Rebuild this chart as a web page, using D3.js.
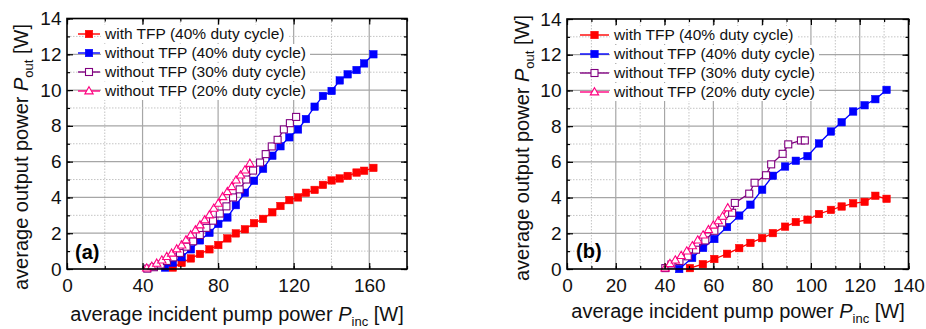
<!DOCTYPE html>
<html>
<head>
<meta charset="utf-8">
<script src="https://cdn.jsdelivr.net/npm/d3@7/dist/d3.min.js"></script>
<style>
  body { margin: 0; background: #fff; }
  svg { display: block; font-family: "Liberation Sans", Arial, sans-serif; }
</style>
</head>
<body>
<svg id="chart" width="926" height="329"></svg>
<script>
// ---- data: [incident pump power W, output power W] ----
const legendNames = [
  "with TFP (40% duty cycle)",
  "without TFP (40% duty cycle)",
  "without TFP (30% duty cycle)",
  "without TFP (20% duty cycle)"
];

// panel (a)
const aWithTFP40 = [[56.0,0.08],[60.7,0.34],[65.6,0.59],[70.4,0.84],[75.4,1.1],[80.1,1.34],[84.9,1.71],[89.4,1.99],[94.2,2.22],[99.0,2.56],[103.8,2.8],[108.7,3.17],[113.0,3.52],[117.7,3.85],[122.3,4.0],[126.5,4.26],[131.1,4.42],[135.5,4.7],[140.1,4.95],[144.4,5.06],[148.6,5.2],[153.3,5.39],[157.3,5.49],[162.2,5.65]];
const aNoTFP40 = [[51.9,0.08],[56.0,0.35],[60.7,0.66],[65.6,1.1],[70.4,1.6],[75.4,2.02],[80.1,2.52],[84.9,2.88],[89.4,3.57],[94.2,4.26],[99.0,4.93],[103.8,5.6],[108.7,6.33],[113.0,6.86],[117.7,7.36],[122.3,7.8],[126.5,8.38],[131.1,9.07],[135.5,9.67],[140.1,9.95],[144.4,10.54],[148.6,10.88],[153.3,11.12],[157.3,11.49],[162.2,12.0]];
const aNoTFP30 = [[42.5,0.02],[46.0,0.1],[49.6,0.25],[52.9,0.45],[56.3,0.65],[59.8,0.9],[63.3,1.25],[66.8,1.55],[70.3,1.9],[73.8,2.3],[77.3,2.7],[80.9,3.1],[84.4,3.5],[87.9,4.0],[91.4,4.45],[94.9,5.0],[98.5,5.5],[102.2,5.95],[105.2,6.42],[108.4,6.85],[111.5,7.22],[114.8,7.8],[118.0,8.15],[121.3,8.5]];
const aNoTFP20 = [[42.2,0.05],[44.9,0.15],[47.5,0.32],[50.2,0.5],[52.8,0.69],[55.4,0.88],[58.1,1.12],[60.7,1.34],[63.0,1.62],[65.5,1.9],[68.0,2.18],[70.4,2.46],[72.9,2.74],[75.4,3.02],[77.7,3.39],[80.1,3.67],[82.4,4.04],[84.9,4.32],[87.2,4.6],[89.5,4.97],[91.9,5.25],[94.2,5.53],[96.8,5.9]];

// panel (b)
const bWithTFP40 = [[50.4,0.05],[55.7,0.27],[60.4,0.56],[65.6,0.85],[70.6,1.17],[75.2,1.46],[80.0,1.73],[84.4,2.01],[89.4,2.37],[93.8,2.63],[98.6,2.76],[103.3,3.08],[108.2,3.31],[112.6,3.5],[117.3,3.68],[122.0,3.76],[126.4,4.1],[131.0,3.93]];
const bNoTFP40 = [[46.0,0.0],[51.3,0.62],[55.8,1.18],[60.4,1.68],[65.6,2.35],[70.6,2.99],[75.2,3.6],[80.0,4.44],[84.4,5.22],[89.4,5.74],[93.8,6.06],[98.6,6.32],[103.3,7.03],[108.2,7.7],[112.6,8.22],[117.3,8.82],[122.0,9.17],[126.4,9.51],[131.0,10.03]];
const bNoTFP30 = [[40.3,0.05],[42.8,0.25],[46.1,0.45],[49.5,0.71],[52.9,1.08],[56.7,1.6],[60.4,2.14],[63.6,2.6],[67.7,3.15],[68.8,3.7],[74.7,4.22],[76.9,4.83],[81.6,5.25],[83.7,5.86],[88.4,6.45],[90.7,6.98],[95.9,7.2],[97.5,7.2]];
const bNoTFP20 = [[40.2,0.05],[42.2,0.3],[44.4,0.5],[46.8,0.75],[49.1,1.0],[51.4,1.3],[53.6,1.62],[55.8,1.9],[58.0,2.2],[60.0,2.45],[62.0,2.7],[63.8,2.95],[65.9,3.42]];

const yTicks = [0, 2, 4, 6, 8, 10, 12, 14];
const xTicksA = [0, 40, 80, 120, 160];
const xTicksB = [0, 20, 40, 60, 80, 100, 120, 140];

// marker styles per series (same order as legendNames)
const styles = [
  { color: "#ff0000", shape: "square", fill: true },
  { color: "#0000ff", shape: "square", fill: true },
  { color: "#800080", shape: "square", fill: false },
  { color: "#ff0080", shape: "triangle", fill: false }
];

const svg = d3.select("#chart");

function marker(g, s, cx, cy) {
  if (s.shape === "square") {
    const sz = s.fill ? 7.5 : 7;
    g.append("rect")
      .attr("x", cx - sz / 2).attr("y", cy - sz / 2)
      .attr("width", sz).attr("height", sz)
      .attr("fill", s.fill ? s.color : "#fff")
      .attr("stroke", s.color)
      .attr("stroke-width", s.fill ? 0.5 : 1.1);
  } else {
    g.append("path")
      .attr("d", d3.symbol(d3.symbolTriangle, 30)())
      .attr("transform", "translate(" + cx + "," + (cy + 0.5) + ")")
      .attr("fill", "#fff")
      .attr("stroke", s.color)
      .attr("stroke-width", 1.1);
  }
}

function drawPanel(p) {
  const x = d3.scaleLinear().domain([0, p.xMax]).range([p.left, p.right]);
  const y = d3.scaleLinear().domain([0, 14]).range([p.bottom, p.top]);
  const g = svg.append("g");

  // grid
  const xMinor = d3.range(0, p.xMax + 0.01, p.xStep / 2);
  const yMinor = d3.range(0, 14.01, 1);
  g.append("g").selectAll("line").data(xMinor.filter(v => v > 0 && v < p.xMax)).enter()
    .append("line")
    .attr("x1", d => x(d)).attr("x2", d => x(d))
    .attr("y1", p.top).attr("y2", p.bottom)
    .attr("stroke", d => d % p.xStep === 0 ? "#a6a6a6" : "#c4c4c4")
    .attr("stroke-width", d => d % p.xStep === 0 ? 1.2 : 1)
    .attr("stroke-dasharray", d => d % p.xStep === 0 ? null : "1.5,1.5");
  g.append("g").selectAll("line").data(yMinor.filter(v => v > 0 && v < 14)).enter()
    .append("line")
    .attr("y1", d => y(d)).attr("y2", d => y(d))
    .attr("x1", p.left).attr("x2", p.right)
    .attr("stroke", d => d % 2 === 0 ? "#a6a6a6" : "#c4c4c4")
    .attr("stroke-width", d => d % 2 === 0 ? 1.2 : 1)
    .attr("stroke-dasharray", d => d % 2 === 0 ? null : "1.5,1.5");

  // legend (white boxes behind text hide the grid)
  const leg = g.append("g");
  p.series.forEach((data, i) => {
    const s = styles[i];
    const ly = p.legY + i * p.legDy;
    const t = leg.append("text")
      .attr("x", p.legTx).attr("y", ly)
      .attr("dy", "0.35em")
      .attr("font-size", "15.5px")
      .attr("fill", "#111")
      .text(legendNames[i]);
    const bb = t.node().getBBox();
    leg.insert("rect", "text")
      .attr("x", bb.x - 3).attr("y", ly - 9)
      .attr("width", bb.width + 7).attr("height", 18)
      .attr("fill", "#fff");
    leg.append("line")
      .attr("x1", p.legLx0).attr("x2", p.legLx1)
      .attr("y1", ly).attr("y2", ly)
      .attr("stroke", s.color).attr("stroke-width", 1.4);
    marker(leg, s, (p.legLx0 + p.legLx1) / 2, ly);
  });

  // series
  const line = d3.line().x(d => x(d[0])).y(d => y(d[1]));
  p.series.forEach((data, i) => {
    const s = styles[i];
    const sg = g.append("g");
    sg.append("path").datum(data)
      .attr("d", line)
      .attr("fill", "none")
      .attr("stroke", s.color)
      .attr("stroke-width", 1.3);
    data.forEach(d => marker(sg, s, x(d[0]), y(d[1])));
  });

  // axes with inward ticks on all four sides
  const fs = "19px";
  const bottom = g.append("g").attr("transform", "translate(0," + p.bottom + ")")
    .call(d3.axisBottom(x).tickValues(p.xTicks).tickSize(-6).tickPadding(9.5).tickFormat(d3.format("d")));
  bottom.append("g").call(d3.axisBottom(x).tickValues(xMinor).tickSize(-3).tickFormat(""));
  const left = g.append("g").attr("transform", "translate(" + p.left + ",0)")
    .call(d3.axisLeft(y).tickValues(yTicks).tickSize(-6).tickPadding(5.5));
  left.append("g").call(d3.axisLeft(y).tickValues(yMinor).tickSize(-3).tickFormat(""));
  const top = g.append("g").attr("transform", "translate(0," + p.top + ")")
    .call(d3.axisTop(x).tickValues(xMinor).tickSize(-3).tickFormat(""));
  top.append("g").call(d3.axisTop(x).tickValues(p.xTicks).tickSize(-6).tickFormat(""));
  const right = g.append("g").attr("transform", "translate(" + p.right + ",0)")
    .call(d3.axisRight(y).tickValues(yMinor).tickSize(-3).tickFormat(""));
  right.append("g").call(d3.axisRight(y).tickValues(yTicks).tickSize(-6).tickFormat(""));
  [bottom, left, top, right].forEach(a => {
    a.selectAll(".domain").remove();
    a.selectAll("line").attr("stroke", "#000").attr("stroke-width", 1.2);
    a.selectAll("text").attr("font-size", fs).attr("font-family", "Liberation Sans, Arial, sans-serif").attr("fill", "#111");
  });

  // frame
  g.append("rect")
    .attr("x", p.left).attr("y", p.top)
    .attr("width", p.right - p.left).attr("height", p.bottom - p.top)
    .attr("fill", "none").attr("stroke", "#000").attr("stroke-width", 1.6);

  // panel letter
  g.append("text")
    .attr("x", p.tagX).attr("y", p.tagY)
    .attr("font-size", "20px").attr("font-weight", "bold")
    .text(p.tag);

  // axis titles
  const xt = g.append("text")
    .attr("x", p.xTitleX).attr("y", p.xTitleY)
    .attr("text-anchor", "middle")
    .attr("font-size", "20px").attr("fill", "#111");
  xt.append("tspan").text("average incident pump power ");
  xt.append("tspan").attr("font-style", "italic").text("P");
  xt.append("tspan").attr("font-size", "13px").attr("dy", 5).text("inc");
  xt.append("tspan").attr("dy", -5).text(" [W]");

  const yt = g.append("text")
    .attr("transform", "translate(" + p.yTitleX + "," + p.yTitleY + ") rotate(-90)")
    .attr("text-anchor", "middle")
    .attr("font-size", "20px").attr("fill", "#111");
  yt.append("tspan").text("average output power ");
  yt.append("tspan").attr("font-style", "italic").text("P");
  yt.append("tspan").attr("font-size", "13px").attr("dy", 5).text("out");
  yt.append("tspan").attr("dy", -5).text(" [W]");
}

drawPanel({
  left: 67, right: 407, top: 18.5, bottom: 269,
  xMax: 180, xStep: 40, xTicks: xTicksA,
  series: [aWithTFP40, aNoTFP40, aNoTFP30, aNoTFP20],
  legY: 34, legDy: 19, legLx0: 78, legLx1: 100, legTx: 105,
  tag: "(a)", tagX: 75, tagY: 259,
  xTitleX: 237, xTitleY: 321,
  yTitleX: 28, yTitleY: 157
});

drawPanel({
  left: 567, right: 908.5, top: 19, bottom: 269,
  xMax: 140, xStep: 20, xTicks: xTicksB,
  series: [bWithTFP40, bNoTFP40, bNoTFP30, bNoTFP20],
  legY: 35, legDy: 19, legLx0: 580, legLx1: 609, legTx: 614,
  tag: "(b)", tagX: 576, tagY: 258,
  xTitleX: 738, xTitleY: 318,
  yTitleX: 529, yTitleY: 148
});
</script>
</body>
</html>
